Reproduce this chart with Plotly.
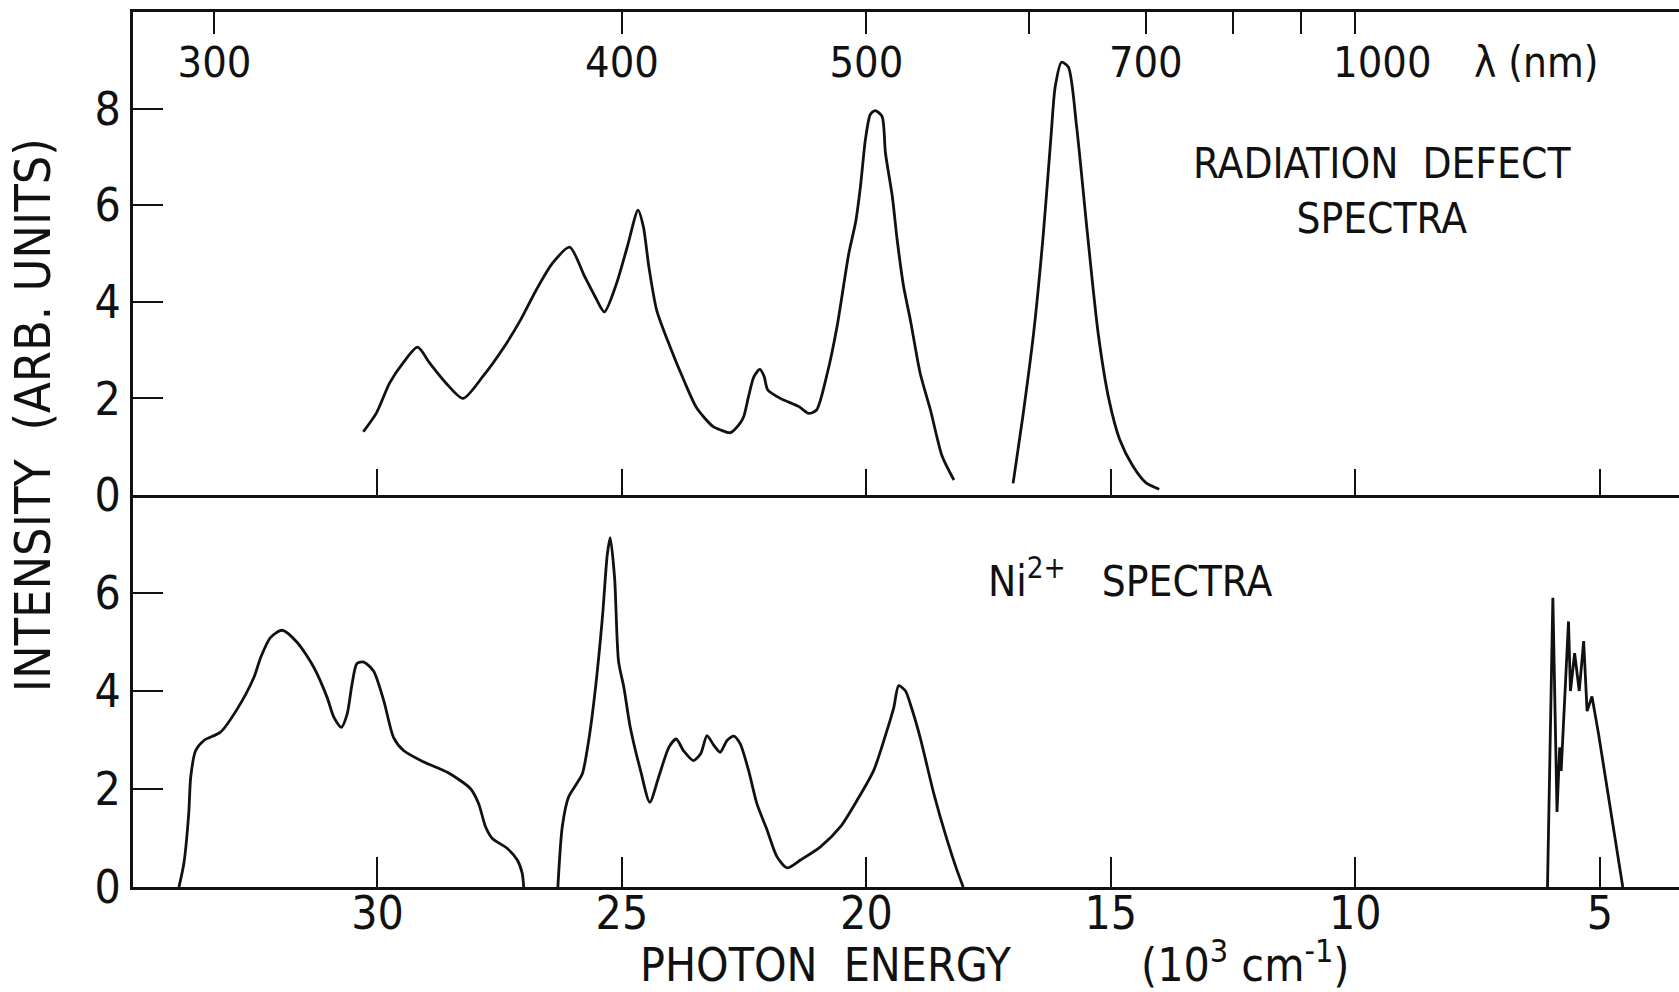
import plotly.graph_objects as go

# ---------------- data (photon energy in 10^3 cm^-1, intensity arb. units) -------------
# Radiation defect spectra (upper panel)
rad_a_energy = [30.29, 30.02, 29.75, 29.48, 29.18, 28.93, 28.60, 28.25, 27.84, 27.40, 27.07,
                26.75, 26.42, 26.07, 25.76, 25.55, 25.36, 25.11, 24.89, 24.67, 24.56, 24.45,
                24.29, 24.02, 23.74, 23.47, 23.14, 22.99, 22.78, 22.61, 22.51, 22.41, 22.30,
                22.18, 22.09, 22.02, 21.76, 21.38, 21.18, 21.02, 20.80, 20.60, 20.36, 20.22,
                20.12, 20.02, 19.92, 19.82, 19.68, 19.61, 19.47, 19.37, 19.24, 19.10, 18.90,
                18.69, 18.45, 18.21]
rad_a_int = [1.31, 1.70, 2.32, 2.73, 3.06, 2.73, 2.32, 2.00, 2.46, 3.08, 3.63,
             4.25, 4.80, 5.13, 4.52, 4.11, 3.79, 4.38, 5.14, 5.90, 5.55, 4.73,
             3.83, 3.08, 2.39, 1.80, 1.42, 1.35, 1.29, 1.45, 1.62, 2.04, 2.45,
             2.60, 2.45, 2.18, 2.00, 1.83, 1.69, 1.76, 2.52, 3.49, 5.00, 5.65,
             6.40, 7.36, 7.88, 7.96, 7.84, 7.08, 6.18, 5.28, 4.32, 3.62, 2.52,
             1.76, 0.80, 0.31]

rad_b_energy = [17.00, 16.80, 16.58, 16.38, 16.22, 16.14, 16.01, 15.87, 15.70, 15.48,
                15.26, 15.04, 14.82, 14.55, 14.28, 14.01]
rad_b_int = [0.24, 1.63, 3.35, 5.42, 7.48, 8.44, 8.96, 8.86, 7.62, 5.42,
             3.35, 1.98, 1.15, 0.60, 0.25, 0.12]

# Ni2+ spectra (lower panel)
ni_a_energy = [34.06, 33.96, 33.86, 33.82, 33.72, 33.55, 33.21, 32.87, 32.53, 32.39, 32.19,
               31.95, 31.64, 31.30, 31.03, 30.89, 30.74, 30.62, 30.52, 30.42, 30.28, 30.08,
               29.87, 29.67, 29.46, 29.05, 28.57, 28.10, 27.93, 27.79, 27.65, 27.35, 27.14,
               27.04, 27.01]
ni_a_int = [0.00, 0.48, 1.50, 2.24, 2.78, 2.99, 3.16, 3.63, 4.27, 4.68, 5.09,
            5.24, 4.99, 4.48, 3.87, 3.46, 3.26, 3.53, 4.14, 4.56, 4.59, 4.41,
            3.80, 3.05, 2.78, 2.55, 2.34, 2.01, 1.70, 1.23, 0.99, 0.79, 0.55,
            0.28, 0.00]

ni_b_energy = [26.31, 26.22, 26.09, 25.95, 25.81, 25.68, 25.54, 25.40, 25.30, 25.24, 25.15,
               25.07, 24.96, 24.83, 24.62, 24.43, 24.25, 24.04, 23.89, 23.74, 23.54, 23.39,
               23.26, 23.12, 22.99, 22.85, 22.71, 22.58, 22.41, 22.24, 22.03, 21.83, 21.62,
               21.35, 20.94, 20.53, 20.19, 19.85, 19.58, 19.44, 19.34, 19.20, 19.10, 18.90,
               18.62, 18.35, 18.15, 18.02]
ni_b_int = [0.00, 1.23, 1.84, 2.07, 2.31, 2.99, 4.07, 5.49, 6.78, 7.13, 6.31,
            4.61, 4.07, 3.26, 2.38, 1.73, 2.24, 2.85, 3.02, 2.78, 2.58, 2.72,
            3.09, 2.89, 2.75, 2.99, 3.08, 2.92, 2.38, 1.70, 1.16, 0.62, 0.39,
            0.55, 0.82, 1.23, 1.77, 2.38, 3.19, 3.66, 4.11, 4.00, 3.73, 3.05,
            1.90, 0.96, 0.35, 0.00]

ni_c_energy = [6.07, 5.96, 5.875, 5.82, 5.79, 5.64, 5.60, 5.515, 5.42, 5.33, 5.26, 5.16, 5.025, 4.53]
ni_c_int = [0.00, 5.90, 1.53, 2.85, 2.37, 5.42, 4.00, 4.77, 4.00, 5.02, 3.59, 3.89, 3.12, 0.00]

energy_ticks = [30, 25, 20, 15, 10, 5]
energy_ticktext = ["30", "25", "20", "15", "10", "5"]
wl_labeled_nm = [300, 400, 500, 700]
wl_labeled_text = ["300", "400", "500", "700"]
wl_unlabeled_nm = [600, 800, 900]
wl_last_nm = [1000]
wl_last_text = ["1000"]
upper_yticks = [0, 2, 4, 6, 8]
lower_yticks = [0, 2, 4, 6]

# ---------------- figure ----------------
FONT = "Liberation Sans Narrow, DejaVu Sans Condensed, Arial Narrow, sans-serif"
INK = "#111111"
X_RANGE = [35.0, 3.38]


def to_energy(nm_list):
    return [10000.0 / w for w in nm_list]


fig = go.Figure()
line_style = dict(color=INK, width=2.8)
for ex, iy in [(rad_a_energy, rad_a_int), (rad_b_energy, rad_b_int)]:
    fig.add_trace(go.Scatter(x=ex, y=iy, mode="lines",
                             line=dict(line_style, shape="spline", smoothing=0.7),
                             xaxis="x2", yaxis="y", showlegend=False))
for ex, iy, shape in [(ni_a_energy, ni_a_int, "spline"), (ni_b_energy, ni_b_int, "spline"),
                      (ni_c_energy, ni_c_int, "linear")]:
    extra = dict(smoothing=0.7) if shape == "spline" else {}
    fig.add_trace(go.Scatter(x=ex, y=iy, mode="lines",
                             line=dict(line_style, shape=shape, **extra),
                             xaxis="x", yaxis="y2", showlegend=False))

# invisible traces to activate the wavelength axes
for ax, vals in [("x3", wl_labeled_nm), ("x4", wl_unlabeled_nm), ("x5", wl_last_nm)]:
    fig.add_trace(go.Scatter(x=to_energy(vals), y=[None] * len(vals), mode="lines",
                             xaxis=ax, yaxis="y", showlegend=False, hoverinfo="skip"))

split = 0.448
axis_common = dict(showline=True, linecolor=INK, linewidth=3, ticks="inside",
                   tickcolor=INK, tickwidth=2.4, showgrid=False, zeroline=False,
                   fixedrange=True)
top_common = dict(axis_common, anchor="y", overlaying="x2", side="top", range=X_RANGE,
                  ticklen=22, ticklabelposition="inside", ticklabelstandoff=19,
                  tickfont=dict(size=43, family=FONT, color=INK))

fig.update_layout(
    width=1679, height=992,
    margin=dict(l=133, r=0, t=12, b=105),
    paper_bgcolor="white", plot_bgcolor="white",
    font=dict(family=FONT, color=INK),
    xaxis=dict(axis_common, anchor="y2", range=X_RANGE, tickvals=energy_ticks,
               ticktext=energy_ticktext, ticklen=30, ticklabelstandoff=-16,
               tickfont=dict(size=46, family=FONT, color=INK)),
    xaxis2=dict(axis_common, anchor="y", matches="x", range=X_RANGE, tickvals=energy_ticks,
                ticklen=26, showticklabels=False),
    xaxis3=dict(top_common, tickvals=to_energy(wl_labeled_nm), ticktext=wl_labeled_text),
    xaxis4=dict(top_common, tickvals=to_energy(wl_unlabeled_nm), showticklabels=False),
    xaxis5=dict(top_common, tickvals=to_energy(wl_last_nm), ticktext=wl_last_text,
                ticklabelshift=-27),
    yaxis=dict(axis_common, domain=[split, 1], range=[0, 10], tickvals=upper_yticks,
               ticklen=30, tickfont=dict(size=46, family=FONT, color=INK)),
    yaxis2=dict(axis_common, domain=[0, split], range=[0, 8], tickvals=lower_yticks,
                ticklen=30, tickfont=dict(size=46, family=FONT, color=INK)),
)

ann_font = dict(family=FONT, size=42, color=INK)
fig.add_annotation(text="RADIATION  DEFECT<br>SPECTRA", x=9.45, y=6.3, xref="x2", yref="y",
                   showarrow=False, font=ann_font, align="center")
fig.add_annotation(text="Ni<sup>2+</sup>   SPECTRA", x=14.6, y=6.3, xref="x", yref="y2",
                   showarrow=False, font=ann_font)
fig.add_annotation(text="λ (nm)", x=6.3, y=8.95, xref="x2", yref="y",
                   showarrow=False, font=ann_font)
fig.add_annotation(text="PHOTON  ENERGY", x=20.84, y=-0.122, xref="x", yref="paper",
                   xanchor="center", yanchor="bottom", showarrow=False,
                   font=dict(family=FONT, size=46, color=INK))
fig.add_annotation(text="(10<sup>3</sup> cm<sup>-1</sup>)", x=12.25, y=-0.122, xref="x",
                   yref="paper", xanchor="center", yanchor="bottom", showarrow=False,
                   font=dict(family=FONT, size=46, color=INK))
fig.add_annotation(text="INTENSITY  (ARB. UNITS)", x=-0.0647, y=0.539, xref="paper",
                   yref="paper", xanchor="center", yanchor="middle", textangle=-90,
                   showarrow=False, font=dict(family=FONT, size=50, color=INK))

fig.write_html("out.html")
